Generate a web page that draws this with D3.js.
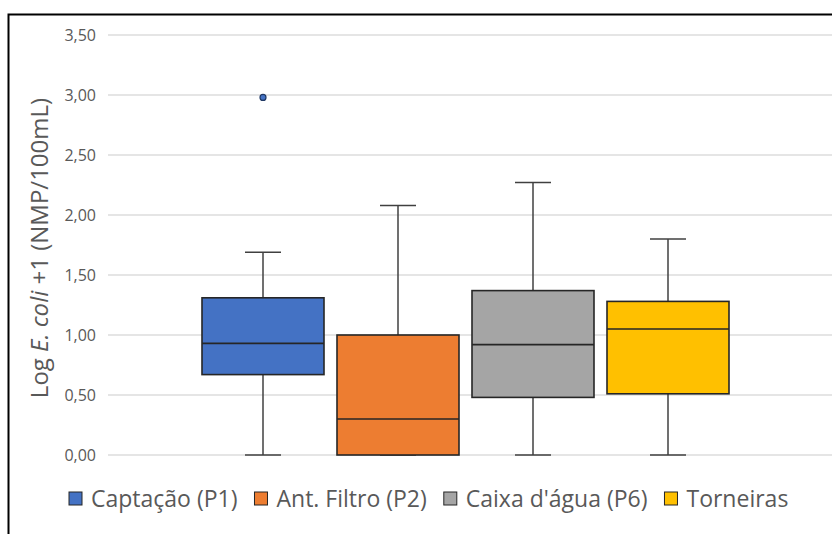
<!DOCTYPE html>
<html>
<head>
<meta charset="utf-8">
<script src="https://cdn.jsdelivr.net/npm/d3@7"></script>
<style>
  html, body { margin: 0; padding: 0; background: #fff; }
  svg { display: block; }
  text { font-family: "Open Sans", "Noto Sans", sans-serif; }
</style>
</head>
<body>
<svg id="chart" width="832" height="534"></svg>
<script>
// ---- data ----
const categories = ["Captação (P1)", "Ant. Filtro (P2)", "Caixa d'água (P6)", "Torneiras"];
const whiskerLow  = [0.00, 0.00, 0.00, 0.00];
const q1          = [0.67, 0.00, 0.48, 0.51];
const median      = [0.93, 0.30, 0.92, 1.05];
const q3          = [1.31, 1.00, 1.37, 1.28];
const whiskerHigh = [1.69, 2.08, 2.27, 1.80];
const outliers    = [[2.98], [], [], []];
const colors      = ["#4472C4", "#ED7D31", "#A5A5A5", "#FFC000"];
const yTicks      = [0, 0.5, 1.0, 1.5, 2.0, 2.5, 3.0, 3.5];

// ---- layout ----
const svg = d3.select("#chart");
const plotLeft = 108, plotRight = 832, plotTop = 35, plotBottom = 455;

const y = d3.scaleLinear().domain([0, 3.5]).range([plotBottom, plotTop]);
const x = d3.scaleBand().domain(categories).range([195.5, 735.5]).paddingInner(0.1).paddingOuter(0.05);

// frame
svg.append("path")
  .attr("d", `M8.5,534 L8.5,14.5 L832,14.5`)
  .attr("fill", "none").attr("stroke", "#000").attr("stroke-width", 2);

// gridlines
svg.append("g").selectAll("line").data(yTicks).join("line")
  .attr("x1", plotLeft).attr("x2", plotRight)
  .attr("y1", d => y(d)).attr("y2", d => y(d))
  .attr("stroke", "#dcdcdc").attr("stroke-width", 1.4);

// y axis labels
const fmt = d => d.toFixed(2).replace(".", ",");
const yAxis = d3.axisLeft(y).tickValues(yTicks).tickFormat(fmt).tickSize(0).tickPadding(0);
const yg = svg.append("g").attr("transform", `translate(96,0)`).call(yAxis);
yg.select(".domain").remove();
yg.selectAll("text").attr("fill", "#595959").style("font-size", "16px")
  .style("font-family", "'Open Sans', sans-serif");

// y axis title
const title = svg.append("text")
  .attr("transform", `translate(48,248) rotate(-90)`)
  .attr("text-anchor", "middle")
  .attr("fill", "#595959")
  .style("font-size", "24px");
title.append("tspan").text("Log ");
title.append("tspan").style("font-style", "italic").text("E. coli");
title.append("tspan").text(" +1 (NMP/100mL)");

// boxes
const bw = 122, capW = 36;
const g = svg.append("g");
categories.forEach((c, i) => {
  const cx = x(c) + x.bandwidth() / 2;
  const gg = g.append("g");
  // whiskers
  gg.append("line").attr("x1", cx).attr("x2", cx).attr("y1", y(q3[i])).attr("y2", y(whiskerHigh[i]))
    .attr("stroke", "#404040").attr("stroke-width", 1.5);
  gg.append("line").attr("x1", cx).attr("x2", cx).attr("y1", y(q1[i])).attr("y2", y(whiskerLow[i]))
    .attr("stroke", "#404040").attr("stroke-width", 1.5);
  [whiskerHigh[i], whiskerLow[i]].forEach(v => {
    gg.append("line").attr("x1", cx - capW / 2).attr("x2", cx + capW / 2).attr("y1", y(v)).attr("y2", y(v))
      .attr("stroke", "#404040").attr("stroke-width", 1.5);
  });
  // box
  gg.append("rect").attr("x", cx - bw / 2).attr("width", bw)
    .attr("y", y(q3[i])).attr("height", y(q1[i]) - y(q3[i]))
    .attr("fill", colors[i]).attr("stroke", "#262626").attr("stroke-width", 1.6);
  gg.append("line").attr("x1", cx - bw / 2).attr("x2", cx + bw / 2)
    .attr("y1", y(median[i])).attr("y2", y(median[i]))
    .attr("stroke", "#262626").attr("stroke-width", 1.6);
  // outliers
  gg.selectAll("circle").data(outliers[i]).join("circle")
    .attr("cx", cx).attr("cy", d => y(d)).attr("r", 3)
    .attr("fill", colors[i]).attr("stroke", "#1f3864").attr("stroke-width", 1.2);
});

// legend
const leg = svg.append("g");
let lx = 69;
const ly = 499;
categories.forEach((c, i) => {
  leg.append("rect").attr("x", lx).attr("y", ly - 7).attr("width", 13).attr("height", 13)
    .attr("fill", colors[i]).attr("stroke", "#262626").attr("stroke-width", 1);
  const t = leg.append("text").attr("x", lx + 22).attr("y", ly).attr("dy", "0.35em")
    .attr("fill", "#595959").style("font-size", "23px").text(c);
  const w = t.node().getComputedTextLength();
  lx = lx + 22 + w + 17;
});
</script>
</body>
</html>
